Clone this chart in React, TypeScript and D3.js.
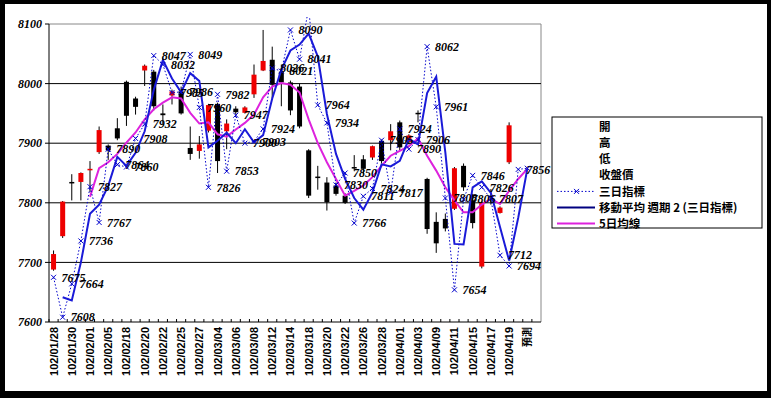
import React from "react";
import * as d3 from "d3";

// trading days (labels shown on every second one)
const categories = [
  "102/01/28", "102/01/29", "102/01/30", "102/01/31", "102/02/01", "102/02/04", "102/02/05", "102/02/06",
  "102/02/18", "102/02/19", "102/02/20", "102/02/21", "102/02/22", "102/02/23", "102/02/25", "102/02/26",
  "102/02/27", "102/03/01", "102/03/04", "102/03/05", "102/03/06", "102/03/07", "102/03/08", "102/03/11",
  "102/03/12", "102/03/13", "102/03/14", "102/03/15", "102/03/18", "102/03/19", "102/03/20", "102/03/21",
  "102/03/22", "102/03/25", "102/03/26", "102/03/27", "102/03/28", "102/03/29", "102/04/01", "102/04/02",
  "102/04/03", "102/04/08", "102/04/09", "102/04/10", "102/04/11", "102/04/12", "102/04/15", "102/04/16",
  "102/04/17", "102/04/18", "102/04/19", "102/04/22", "預測", " ",
];

const openPrices = [
  7688, 7744, 7835, 7835, 7855, 7885, 7896, 7925, 8003, 7975, 8022, 8020, 7950, 7980, 7987, 7892, 7887,
  7921, 7966, 7920, 7958, 7951, 7982, 8022, 8040, 8020, 8002, 7995, 7888, 7844, 7834, 7829, 7812, 7860,
  7873, 7876, 7904, 7905, 7935, 7902, 7951, 7840, 7768, 7773, 7790, 7862, 7804, 7693, 7812, 7783, 7868,
];
const highPrices = [
  7720, 7803, 7848, 7851, 7870, 7928, 7898, 7942, 8005, 7978, 8032, 8023, 7965, 7990, 7995, 7928, 7912,
  7966, 7968, 7940, 7962, 7962, 8032, 8090, 8062, 8032, 8005, 8000, 7890, 7862, 7843, 7834, 7816, 7880,
  7880, 7896, 7906, 7932, 7938, 7915, 7955, 7842, 7784, 7782, 7860, 7866, 7815, 7802, 7823, 7794, 7935,
];
const lowPrices = [
  7686, 7741, 7804, 7804, 7818, 7882, 7872, 7905, 7929, 7948, 7996, 7955, 7932, 7965, 7948, 7872, 7874,
  7918, 7850, 7890, 7948, 7950, 7976, 8021, 7975, 7962, 7947, 7925, 7808, 7822, 7787, 7812, 7798, 7854,
  7848, 7872, 7866, 7888, 7888, 7898, 7935, 7748, 7716, 7752, 7788, 7820, 7757, 7690, 7797, 7782, 7865,
];
const closePrices = [
  7714, 7802, 7833, 7850, 7857, 7922, 7888, 7908, 7946, 7961, 8030, 7962, 7947, 7987, 7950, 7882, 7898,
  7964, 7870, 7933, 7952, 7960, 8015, 8038, 7998, 8002, 7955, 7928, 7812, 7842, 7801, 7815, 7800, 7858,
  7857, 7895, 7870, 7920, 7893, 7913, 7949, 7756, 7732, 7757, 7858, 7826, 7766, 7800, 7810, 7792, 7930,
];

const threeDay = [
  7675, 7608, 7664, 7736, 7827, 7767, 7890, 7864, 7860, 7908, 7932, 8047, 8032, 7985, 7986, 8049, 7960,
  7826, 7982, 7853, 7947, 7900, 7903, 7924, 8026, 8021, 8090, 8041, 8127, 7964, 7934, 7830, 7850, 7766,
  7811, 7824, 7905, 7817, 7924, 7890, 7906, 8062, 7961, 7808, 7654, 7806, 7846, 7826, 7807, 7712, 7694,
  7856, 7858,
];

const fiveDayAvg = [
  null, null, null, null, 7810, 7858, 7868, 7882, 7901, 7918, 7940, 7957, 7968, 7977, 7975, 7951, 7933,
  7935, 7915, 7911, 7923, 7934, 7948, 7977, 7995, 8001, 7998, 7985, 7940, 7900, 7868, 7840, 7812, 7820,
  7829, 7843, 7862, 7879, 7887, 7895, 7908, 7879, 7854, 7826, 7804, 7784, 7784, 7797, 7807, 7798, 7820,
  7840, 7857,
];

const yTicks = [7600, 7700, 7800, 7900, 8000, 8100];
const legendNames = ["開", "高", "低", "收盤價", "三日指標", "移動平均  週期 2 (三日指標)", "5日均線"];

const W = 771;
const H = 398;
const plot = { left: 49, right: 541, top: 24, bottom: 322 };
const numFont = "'Liberation Serif', 'DejaVu Serif', serif";
const cjkFont = "'Noto Sans CJK TC', 'Noto Sans CJK SC', sans-serif";

export default function App() {
  const x = d3.scaleBand<string>().domain(categories).range([plot.left, plot.right]).paddingInner(0).paddingOuter(0);
  const y = d3.scaleLinear().domain([7600, 8100]).range([plot.bottom, plot.top]);
  const cx = (i: number) => (x(categories[i]) as number) + x.bandwidth() / 2;

  // Excel-style 2 period moving average trendline of the three-day indicator
  const movingAvg = threeDay.map((v, i) => (i === 0 ? null : (v + threeDay[i - 1]) / 2));

  const line = d3
    .line<number | null>()
    .defined((d) => d != null)
    .x((_, i) => cx(i))
    .y((d) => y(d as number));

  const bodyW = 5;
  const lastIdx = threeDay.length - 1;

  return (
    <svg width={W} height={H} style={{ display: "block", position: "absolute", left: 0, top: 0 }}>
      <defs>
        <clipPath id="plotClip">
          <rect x={plot.left} y={17} width={plot.right - plot.left} height={plot.bottom - 17 + 4} />
        </clipPath>
      </defs>
      <rect x={0} y={0} width={W} height={H} fill="#000" />
      <rect x={5} y={4} width={762} height={387} fill="#fff" />

      {/* plot frame and grid */}
      <line x1={plot.left} x2={plot.right} y1={plot.top} y2={plot.top} stroke="#888" />
      <line x1={plot.right} x2={plot.right} y1={plot.top} y2={plot.bottom} stroke="#888" />
      {yTicks.slice(1, -1).map((t) => (
        <line key={t} x1={plot.left} x2={plot.right} y1={y(t)} y2={y(t)} stroke="#000" />
      ))}
      <line x1={plot.left} x2={plot.left} y1={plot.top} y2={plot.bottom} stroke="#000" />
      <line x1={plot.left} x2={plot.right} y1={plot.bottom} y2={plot.bottom} stroke="#000" />
      {yTicks.map((t) => (
        <g key={"yt" + t}>
          <line x1={plot.left - 4} x2={plot.left} y1={y(t)} y2={y(t)} stroke="#000" />
          <text
            x={42}
            y={y(t)}
            dy="0.35em"
            textAnchor="end"
            fontFamily={numFont}
            fontStyle="italic"
            fontWeight="bold"
            fontSize={12}
          >
            {t}
          </text>
        </g>
      ))}
      {categories.map((c, i) => (
        <line
          key={"xt" + i}
          x1={x(c) as number}
          x2={x(c) as number}
          y1={plot.bottom}
          y2={plot.bottom - 3}
          stroke="#000"
        />
      ))}
      {categories.map((c, i) =>
        i % 2 === 0 ? (
          <text
            key={"xl" + i}
            transform={`translate(${cx(i) + 4},${plot.bottom + 5}) rotate(-90)`}
            textAnchor="end"
            fontFamily={c === "預測" ? cjkFont : "'Liberation Sans', Arial, sans-serif"}
            fontWeight="bold"
            fontSize={c === "預測" ? 10 : 11}
          >
            {c}
          </text>
        ) : null
      )}

      {/* candlesticks */}
      {openPrices.map((o, i) => {
        const c = closePrices[i];
        const up = c >= o;
        const top = y(Math.max(o, c));
        const bot = y(Math.min(o, c));
        return (
          <g key={"k" + i}>
            <line x1={cx(i)} x2={cx(i)} y1={y(highPrices[i])} y2={y(lowPrices[i])} stroke="#000" />
            <rect
              x={cx(i) - bodyW / 2}
              y={top}
              width={bodyW}
              height={Math.max(bot - top, 1.5)}
              fill={up ? "#ee0000" : "#000"}
            />
          </g>
        );
      })}

      <g clipPath="url(#plotClip)">
        <path d={line(fiveDayAvg) || ""} fill="none" stroke="#dd22dd" strokeWidth={2} />
        <path d={line(threeDay) || ""} fill="none" stroke="#0000cc" strokeWidth={1} strokeDasharray="1.5 2" />
        <path d={line(movingAvg) || ""} fill="none" stroke="#1a1ad8" strokeWidth={2} />
      </g>

      {/* three-day markers and labels (last label sits under the legend) */}
      {threeDay.map((v, i) => {
        if (v > 8100 || v < 7600) return null;
        const px = cx(i);
        const py = y(v);
        return (
          <g key={"m" + i}>
            <path
              d={`M${px - 2.5},${py - 2.5}L${px + 2.5},${py + 2.5}M${px - 2.5},${py + 2.5}L${px + 2.5},${py - 2.5}`}
              stroke="#0000cc"
              strokeWidth={1}
            />
            {i !== lastIdx && (
              <text
                x={px + 8}
                y={py}
                dy="0.35em"
                fontFamily={numFont}
                fontStyle="italic"
                fontWeight="bold"
                fontSize={12}
              >
                {v}
              </text>
            )}
          </g>
        );
      })}

      {/* legend */}
      <rect x={552} y={117} width={210} height={111} fill="#fff" stroke="#000" />
      {legendNames.map((name, i) => {
        const ly = 127 + i * 16.1;
        return (
          <g key={"lg" + i}>
            {i === 4 && (
              <g>
                <line x1={557} x2={595} y1={ly} y2={ly} stroke="#0000cc" strokeDasharray="1.5 2" />
                <path
                  d={`M${574},${ly - 2.5}L${579},${ly + 2.5}M${574},${ly + 2.5}L${579},${ly - 2.5}`}
                  stroke="#0000cc"
                />
              </g>
            )}
            {i === 5 && <line x1={557} x2={595} y1={ly} y2={ly} stroke="#000080" strokeWidth={2} />}
            {i === 6 && <line x1={557} x2={595} y1={ly} y2={ly} stroke="#dd22dd" strokeWidth={2} />}
            <text x={599} y={ly} dy="0.36em" fontFamily={cjkFont} fontWeight="bold" fontSize={11.5}>
              {name}
            </text>
          </g>
        );
      })}
    </svg>
  );
}
